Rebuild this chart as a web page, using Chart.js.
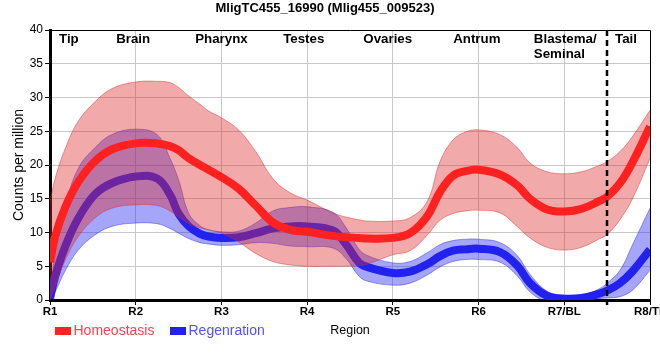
<!DOCTYPE html>
<html><head><meta charset="utf-8">
<script src="https://cdn.jsdelivr.net/npm/chart.js@4.4.1/dist/chart.umd.min.js"></script>
<style>
html,body{margin:0;padding:0;overflow:hidden;background:#fff;width:660px;height:360px}
#wrap{width:700px;height:360px}
</style></head>
<body><div id="wrap"><canvas id="c" width="700" height="360"></canvas></div>
<script>
// ---- data ----
const xLabels = ['R1','R2','R3','R4','R5','R6','R7/BL','R8/TL'];
const xs = [1, 1.06, 1.18, 1.33, 1.52, 1.72, 2, 2.25, 2.4, 2.5, 2.62, 2.75, 2.85, 3, 3.2, 3.4, 3.6, 3.8,
            4, 4.3, 4.45, 4.6, 4.7, 5, 5.2, 5.4, 5.55, 5.7, 5.85, 6, 6.25, 6.45, 6.6, 6.8, 7, 7.2, 7.4, 7.5, 7.65, 7.8, 8];
const homeo   = [5.6, 9.4, 13.8, 17.5, 20.5, 22.3, 23.2, 23.2, 22.8, 22.2, 21.0, 20.0, 19.3, 18.2, 16.5, 14.0, 11.5, 10.4,
                 10.1, 9.5, 9.3, 9.2, 9.1, 9.2, 9.9, 12.4, 16.0, 18.4, 19.1, 19.3, 18.6, 17.0, 15.0, 13.4, 13.1, 13.5, 14.6, 15.3, 17.3, 20.5, 25.7];
const homeoHi = [14.5, 18.0, 22.5, 26.5, 29.3, 31.3, 32.3, 32.4, 32.2, 31.5, 30.2, 29.0, 28.0, 27.0, 25.2, 22.0, 18.0, 15.9,
                 14.8, 12.9, 12.3, 11.9, 11.7, 11.7, 12.2, 14.6, 20.5, 23.7, 24.9, 25.2, 24.5, 22.6, 20.3, 19.0, 18.7, 19.0, 19.9, 20.5, 22.0, 24.3, 28.1];
const homeoLo = [0, 2.0, 6.0, 9.4, 12.1, 13.6, 14.1, 14.0, 13.2, 12.3, 11.3, 10.7, 10.4, 9.9, 8.6, 6.9, 5.7, 5.2,
                 5.0, 5.0, 5.0, 5.1, 5.3, 6.7, 7.3, 9.6, 11.8, 12.8, 13.2, 13.3, 12.9, 10.9, 9.2, 7.8, 7.4, 7.8, 9.0, 9.7, 11.9, 15.1, 21.0];
const regen   = [0.2, 3.5, 8.0, 12.1, 15.6, 17.3, 18.3, 18.0, 15.6, 12.8, 10.9, 9.8, 9.4, 9.2, 9.3, 9.9, 10.6, 10.9,
                 10.9, 10.3, 8.3, 5.6, 4.9, 4.0, 4.2, 5.3, 6.5, 7.3, 7.5, 7.6, 7.1, 5.1, 2.5, 0.6, 0.2, 0.3, 0.9, 1.4, 2.5, 4.3, 7.5];
const regenHi = [0.2, 7.0, 14.0, 19.5, 22.5, 24.5, 25.3, 24.5, 21.0, 17.8, 12.8, 11.0, 10.4, 10.1, 10.2, 11.4, 13.2, 13.7,
                 13.8, 13.0, 10.8, 7.6, 6.6, 5.5, 5.7, 7.0, 8.2, 8.8, 9.0, 9.0, 8.5, 6.6, 3.8, 1.3, 0.7, 0.7, 1.6, 2.5, 4.4, 8.3, 13.6];
const regenLo = [0, 1.2, 4.4, 7.4, 9.6, 10.9, 11.4, 11.3, 10.6, 9.9, 9.1, 8.5, 8.3, 8.1, 8.2, 8.5, 8.4, 8.0,
                 7.9, 7.7, 6.2, 3.6, 2.8, 2.2, 2.5, 3.7, 4.9, 5.7, 6.0, 6.0, 5.6, 3.6, 1.2, -0.3, -0.4, -0.2, 0.2, 0.3, 0.5, 1.5, 4.4];
const regionNames = [['Tip'], ['Brain'], ['Pharynx'], ['Testes'], ['Ovaries'], ['Antrum'], ['Blastema/', 'Seminal'], ['Tail']];
const regionAt    = [1.22, 1.97, 3.0, 3.96, 4.94, 5.98, 6.645, 7.72];
const tailBoundary = 7.5;

// ---- styling ----
const FONT = "'Liberation Sans', Arial, sans-serif";
const RED = '#ff2020', BLUE = '#2222f0';
const pts = arr => xs.map((x, i) => ({x: x, y: arr[i]}));
const lineDs = (label, arr, color) => ({label, data: pts(arr), borderColor: color, borderWidth: 8,
  pointRadius: 0, fill: false, tension: 0.4, showInLegend: true});
const bandDs = (label, arr, edge, bg, fill) => ({label, data: pts(arr), borderColor: edge, borderWidth: 1,
  backgroundColor: bg, pointRadius: 0, fill: fill, tension: 0.4});

const deco = {
  id: 'deco',
  afterDatasetsDraw(chart) {
    const {ctx, chartArea: a, scales: {x}} = chart;
    ctx.save();
    // top & right frame
    ctx.strokeStyle = '#000'; ctx.lineWidth = 1;
    ctx.beginPath(); ctx.moveTo(a.left, a.top + 0.5); ctx.lineTo(a.right + 0.5, a.top + 0.5); ctx.lineTo(a.right + 0.5, a.bottom); ctx.stroke();
    // dashed boundary
    const dx = Math.round(x.getPixelForValue(tailBoundary));
    ctx.lineWidth = 2.5; ctx.setLineDash([6, 4]);
    ctx.beginPath(); ctx.moveTo(dx, a.top); ctx.lineTo(dx, a.bottom + 5); ctx.stroke();
    ctx.setLineDash([]);
    // region labels
    ctx.fillStyle = '#000'; ctx.font = 'bold 13.3px ' + FONT; ctx.textBaseline = 'middle';
    regionNames.forEach((lines, i) => {
      const px = x.getPixelForValue(regionAt[i]);
      ctx.textAlign = lines.length > 1 ? 'left' : 'center';
      lines.forEach((t, j) => ctx.fillText(t, px, a.top + 9.5 + j * 15));
    });
    ctx.restore();
  },
  afterDraw(chart) {
    const {ctx, chartArea: a} = chart;
    ctx.save();
    const y = a.bottom + 31;
    const items = chart.data.datasets.filter(d => d.showInLegend);
    const textCols = ['#ff4050', '#5050ff'];
    let px = 55;
    ctx.font = '14px ' + FONT; ctx.textBaseline = 'middle'; ctx.textAlign = 'left';
    items.forEach((d, i) => {
      ctx.fillStyle = d.borderColor; ctx.fillRect(px, y - 4, 16, 8);
      ctx.fillStyle = textCols[i]; ctx.fillText(d.label, px + 18.5, y);
      px += 115;
    });
    ctx.restore();
  }
};

new Chart(document.getElementById('c'), {
  type: 'line',
  data: {
    datasets: [
      lineDs('Homeostasis', homeo, RED),
      bandDs('Homeostasis upper', homeoHi, 'rgba(215,40,40,0.45)', 'rgba(220,40,40,0.4)', '+1'),
      bandDs('Homeostasis lower', homeoLo, 'rgba(215,40,40,0.45)', 'rgba(220,40,40,0.4)', false),
      lineDs('Regenration', regen, BLUE),
      bandDs('Regenration upper', regenHi, 'rgba(40,40,230,0.45)', 'rgba(40,40,240,0.42)', '+1'),
      bandDs('Regenration lower', regenLo, 'rgba(40,40,230,0.45)', 'rgba(40,40,240,0.42)', false)
    ]
  },
  options: {
    responsive: false, animation: false,
    layout: {padding: {left: 0, right: 50, top: 0, bottom: 0}},
    plugins: {
      legend: {display: false}, tooltip: {enabled: false},
      title: {display: true, text: 'MligTC455_16990 (Mlig455_009523)', color: '#000',
        font: {family: FONT, size: 13, weight: 'bold'}, padding: {top: 1, bottom: 13.4}}
    },
    scales: {
      x: {
        type: 'linear', min: 1, max: 8,
        afterFit: s => { s.height = 60; },
        ticks: {stepSize: 1, autoSkip: false, maxRotation: 0, color: '#000',
          font: {family: FONT, size: 11.5, weight: 'bold'}, padding: 0,
          callback: v => xLabels[v - 1] ?? ''},
        grid: {color: '#c8c8c8', lineWidth: 1, tickLength: 5, tickColor: '#000'},
        border: {color: '#000', width: 3},
        title: {display: true, text: 'Region', color: '#000', font: {family: FONT, size: 12.5}, padding: {top: 0, bottom: 21.5}}
      },
      y: {
        min: 0, max: 40,
        afterFit: s => { s.width = 50; },
        ticks: {stepSize: 5, color: '#000', font: {family: FONT, size: 12}, padding: 2},
        grid: {color: '#c8c8c8', lineWidth: 1, tickLength: 5, tickColor: '#000'},
        border: {color: '#000', width: 3},
        title: {display: true, text: 'Counts per million', color: '#000', font: {family: FONT, size: 14}, padding: {top: 10.5, bottom: 0}}
      }
    }
  },
  plugins: [deco]
});
</script>
</body></html>
